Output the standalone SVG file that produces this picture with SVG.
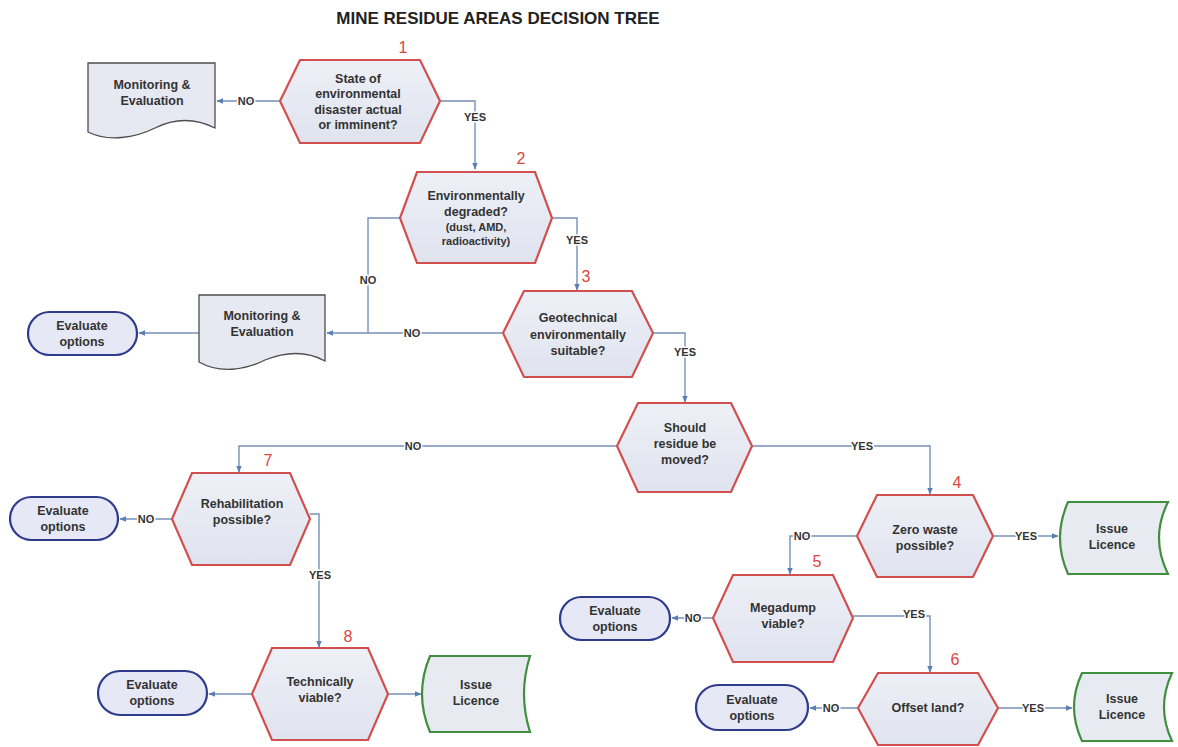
<svg xmlns="http://www.w3.org/2000/svg" width="1178" height="747" viewBox="0 0 1178 747">
<defs>
<linearGradient id="hexg" x1="0" y1="0" x2="0" y2="1">
<stop offset="0" stop-color="#eef0f7"/><stop offset="1" stop-color="#dfe3ee"/>
</linearGradient>
<marker id="arr" viewBox="0 0 10 10" refX="9" refY="5" markerWidth="7" markerHeight="7" orient="auto" markerUnits="userSpaceOnUse">
<path d="M0,1 L10,5 L0,9 Z" fill="#5b7fb5"/>
</marker>
</defs>
<style>
.hex{fill:url(#hexg);stroke:#d24f4f;stroke-width:2.2}
.doc{fill:#e6e9f2;stroke:#4d4d4d;stroke-width:1.3}
.eval{fill:#e6e8f5;stroke:#2e3a8c;stroke-width:2.2}
.lic{fill:#e7ebf1;stroke:#3f8f3f;stroke-width:2.2}
.t{font-family:"Liberation Sans",Arial,sans-serif;font-weight:bold;font-size:12.5px;fill:#333;text-anchor:middle}
.ts{font-size:11px}
.num{font-family:"Liberation Sans",Arial,sans-serif;font-size:16px;fill:#d8463c;text-anchor:middle}
.c{fill:none;stroke:#7590b8;stroke-width:1.4}
.lb{font-family:"Liberation Sans",Arial,sans-serif;font-weight:bold;font-size:11px;fill:#333;text-anchor:middle;stroke:#fff;stroke-width:3;paint-order:stroke}
.title{font-family:"Liberation Sans",Arial,sans-serif;font-weight:bold;font-size:17px;fill:#222;text-anchor:middle}
</style>
<rect width="1178" height="747" fill="#fff"/>
<text class="title" x="498" y="24">MINE RESIDUE AREAS DECISION TREE</text>

<g id="connectors">
<path class="c" d="M280,101 H217" marker-end="url(#arr)"/>
<path class="c" d="M440,101 H475 V169" marker-end="url(#arr)"/>
<path class="c" d="M400,218 H368 V333"/>
<path class="c" d="M552,218 H577 V290" marker-end="url(#arr)"/>
<path class="c" d="M503,333 H327" marker-end="url(#arr)"/>
<path class="c" d="M199,333 H139" marker-end="url(#arr)"/>
<path class="c" d="M653,333 H685 V402" marker-end="url(#arr)"/>
<path class="c" d="M617,446 H239 V472" marker-end="url(#arr)"/>
<path class="c" d="M752,446 H930 V494" marker-end="url(#arr)"/>
<path class="c" d="M172,519 H120" marker-end="url(#arr)"/>
<path class="c" d="M310,514 H319 V647" marker-end="url(#arr)"/>
<path class="c" d="M252,694 H209" marker-end="url(#arr)"/>
<path class="c" d="M388,694 H421" marker-end="url(#arr)"/>
<path class="c" d="M993,536 H1058" marker-end="url(#arr)"/>
<path class="c" d="M857,536 H790 V574" marker-end="url(#arr)"/>
<path class="c" d="M713,618 H672" marker-end="url(#arr)"/>
<path class="c" d="M853,616 H930 V672" marker-end="url(#arr)"/>
<path class="c" d="M858,708 H810" marker-end="url(#arr)"/>
<path class="c" d="M998,708 H1072" marker-end="url(#arr)"/>
<text class="lb" x="246" y="105">NO</text>
<text class="lb" x="475" y="121">YES</text>
<text class="lb" x="368" y="284">NO</text>
<text class="lb" x="577" y="244">YES</text>
<text class="lb" x="412" y="337">NO</text>
<text class="lb" x="685" y="356">YES</text>
<text class="lb" x="413" y="450">NO</text>
<text class="lb" x="862" y="450">YES</text>
<text class="lb" x="146" y="523">NO</text>
<text class="lb" x="320" y="579">YES</text>
<text class="lb" x="1026" y="540">YES</text>
<text class="lb" x="802" y="540">NO</text>
<text class="lb" x="693" y="622">NO</text>
<text class="lb" x="914" y="618">YES</text>
<text class="lb" x="831" y="712">NO</text>
<text class="lb" x="1033" y="712">YES</text>
</g>

<g id="mon1">
<path class="doc" d="M88,63 H215 V128 C195,118 175,118 155,128 C135,138 108,142 88,132 Z"/>
<text class="t" x="152" y="89">Monitoring &amp;</text>
<text class="t" x="152" y="105">Evaluation</text>
</g>
<g id="q1">
<polygon class="hex" points="280,101 300,60 420,60 440,101 420,143 300,143"/>
<text class="num" x="403" y="53">1</text>
<text class="t" x="358" y="83">State of</text>
<text class="t" x="358" y="98">environmental</text>
<text class="t" x="358" y="114">disaster actual</text>
<text class="t" x="358" y="129">or imminent?</text>
</g>
<g id="q2">
<polygon class="hex" points="400,218 417,172 535,172 552,218 535,263 417,263"/>
<text class="num" x="521" y="164">2</text>
<text class="t" x="476" y="200">Environmentally</text>
<text class="t" x="476" y="216">degraded?</text>
<text class="t ts" x="476" y="231">(dust, AMD,</text>
<text class="t ts" x="476" y="245">radioactivity)</text>
</g>
<g id="q3">
<polygon class="hex" points="503,333 524,291 632,291 653,333 632,377 524,377"/>
<text class="num" x="586" y="282">3</text>
<text class="t" x="578" y="322">Geotechnical</text>
<text class="t" x="578" y="339">environmentally</text>
<text class="t" x="578" y="355">suitable?</text>
</g>
<g id="mon2">
<path class="doc" d="M199,295 H325 V361 C305,350 285,352 265,360 C245,370 220,374 199,362 Z"/>
<text class="t" x="262" y="320">Monitoring &amp;</text>
<text class="t" x="262" y="336">Evaluation</text>
</g>
<g id="eval1">
<rect class="eval" x="28" y="312" width="109" height="43" rx="21.5"/>
<text class="t" x="82" y="330">Evaluate</text>
<text class="t" x="82" y="346">options</text>
</g>
<g id="q-move">
<polygon class="hex" points="617,446 638,403 731,403 752,446 731,492 638,492"/>
<text class="t" x="685" y="432">Should</text>
<text class="t" x="685" y="448">residue be</text>
<text class="t" x="685" y="464">moved?</text>
</g>
<g id="q7">
<polygon class="hex" points="172,519 192,473 290,473 310,519 290,565 192,565"/>
<text class="num" x="268" y="466">7</text>
<text class="t" x="242" y="508">Rehabilitation</text>
<text class="t" x="242" y="524">possible?</text>
</g>
<g id="eval2">
<rect class="eval" x="10" y="497" width="108" height="43" rx="21.5"/>
<text class="t" x="63" y="515">Evaluate</text>
<text class="t" x="63" y="531">options</text>
</g>
<g id="q8">
<polygon class="hex" points="252,694 272,648 368,648 388,694 368,740 272,740"/>
<text class="num" x="348" y="642">8</text>
<text class="t" x="320" y="686">Technically</text>
<text class="t" x="320" y="702">viable?</text>
</g>
<g id="eval3">
<rect class="eval" x="98" y="671" width="109" height="44" rx="22"/>
<text class="t" x="152" y="689">Evaluate</text>
<text class="t" x="152" y="705">options</text>
</g>
<g id="lic1">
<path class="lic" d="M430,656 H530 Q518,694 530,732 H430 Q414,694 430,656 Z"/>
<text class="t" x="476" y="689">Issue</text>
<text class="t" x="476" y="705">Licence</text>
</g>
<g id="q4">
<polygon class="hex" points="857,536 877,495 973,495 993,536 973,577 877,577"/>
<text class="num" x="957" y="488">4</text>
<text class="t" x="925" y="534">Zero waste</text>
<text class="t" x="925" y="550">possible?</text>
</g>
<g id="lic2">
<path class="lic" d="M1068,502 H1168 Q1150,538 1168,574 H1068 Q1052,538 1068,502 Z"/>
<text class="t" x="1112" y="533">Issue</text>
<text class="t" x="1112" y="549">Licence</text>
</g>
<g id="q5">
<polygon class="hex" points="713,618 733,575 833,575 853,618 833,662 733,662"/>
<text class="num" x="817" y="567">5</text>
<text class="t" x="783" y="612">Megadump</text>
<text class="t" x="783" y="628">viable?</text>
</g>
<g id="eval4">
<rect class="eval" x="560" y="597" width="110" height="43" rx="21.5"/>
<text class="t" x="615" y="615">Evaluate</text>
<text class="t" x="615" y="631">options</text>
</g>
<g id="q6">
<polygon class="hex" points="858,708 878,673 978,673 998,708 978,745 878,745"/>
<text class="num" x="955" y="665">6</text>
<text class="t" x="928" y="712">Offset land?</text>
</g>
<g id="eval5">
<rect class="eval" x="696" y="685" width="112" height="45" rx="22.5"/>
<text class="t" x="752" y="704">Evaluate</text>
<text class="t" x="752" y="720">options</text>
</g>
<g id="lic3">
<path class="lic" d="M1082,673 H1172 Q1156,707 1172,741 H1082 Q1066,707 1082,673 Z"/>
<text class="t" x="1122" y="703">Issue</text>
<text class="t" x="1122" y="719">Licence</text>
</g>
</svg>
